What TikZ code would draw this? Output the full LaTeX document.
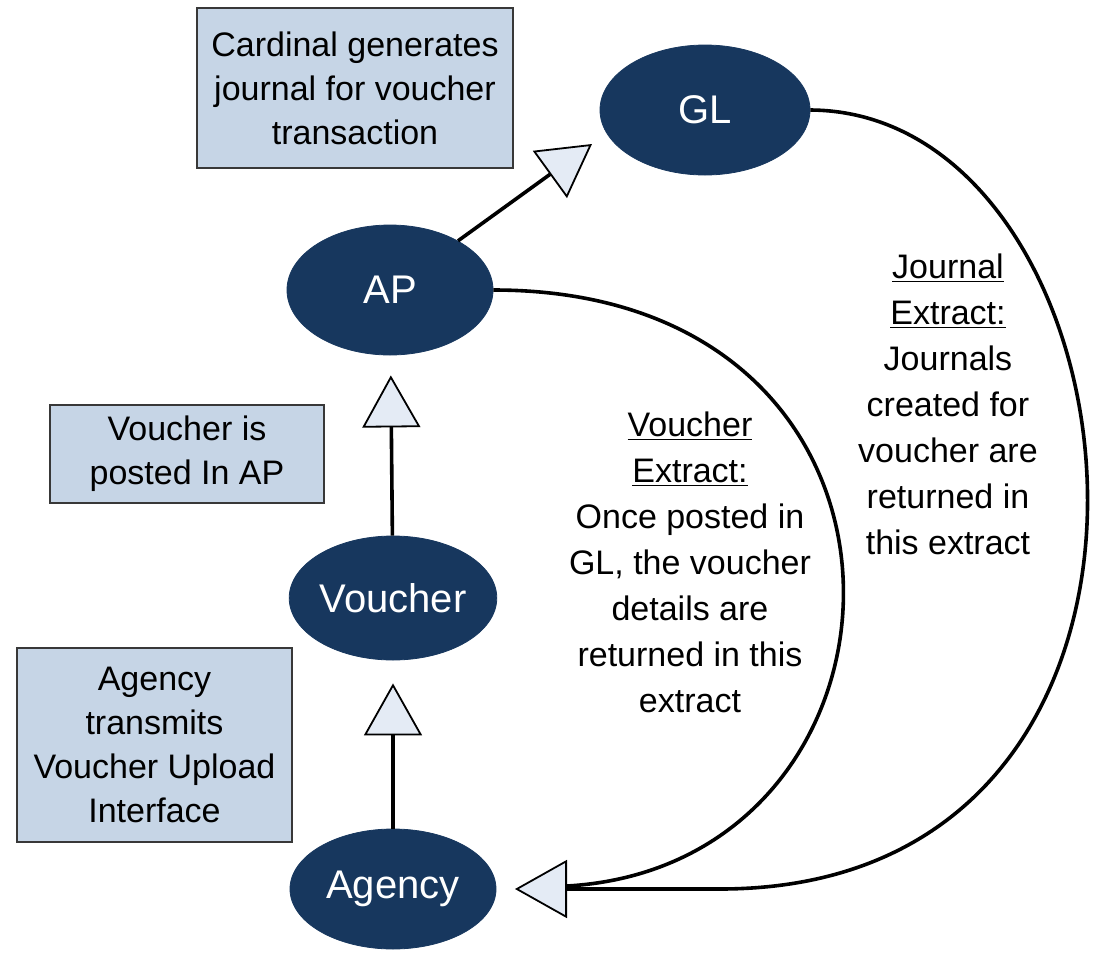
\documentclass[tikz,border=0pt]{standalone}
\usepackage{fontspec}
\setmainfont{Liberation Sans}
\usetikzlibrary{arrows.meta,shapes.geometric}
\definecolor{navy}{HTML}{17375E}
\definecolor{boxfill}{HTML}{C6D5E6}
\definecolor{trifill}{HTML}{E4EBF5}
\definecolor{boxline}{HTML}{383838}
\tikzset{
  ell/.style={ellipse, fill=navy, draw=navy, inner sep=0pt, text=white,
    font=\fontsize{20}{24}\selectfont},
  infobox/.style={rectangle, fill=boxfill, draw=boxline, line width=1pt,
    inner sep=0pt, align=center, font=\fontsize{17}{22}\selectfont},
  lbl/.style={align=center, inner sep=0pt, font=\fontsize{17}{23}\selectfont},
  conn/.style={draw=black, line width=1.8pt},
  tri/.style={-{Triangle[length=26pt,width=29pt,fill=trifill,line width=0.9pt]}}
}
\begin{document}
\begin{tikzpicture}[x=0.5pt,y=-0.5pt]
\useasboundingbox (0,0) rectangle (1105,966);
% boxes
\node[infobox, minimum width=158pt, minimum height=80pt] (bcard) at (355,88)
  {Cardinal generates\\journal for voucher\\transaction};
\node[infobox, minimum width=137pt, minimum height=49pt] (bpost) at (187,454)
  {Voucher is\\posted In AP};
\node[infobox, minimum width=137.5pt, minimum height=97pt] (bagency) at (154.5,745)
  {Agency\\transmits\\Voucher Upload\\Interface};
% ellipses
\node[ell, minimum width=105pt, minimum height=65pt] (GL) at (705,110) {GL};
\node[ell, minimum width=103pt, minimum height=65pt] (AP) at (390,290) {AP};
\node[ell, minimum width=103pt, minimum height=62pt] (V) at (393,598) {Voucher};
\node[ell, minimum width=103pt, minimum height=60pt] (A) at (393,889) {Agency};
% coordinates
\coordinate (gltip) at (592,144);
\coordinate (tipA) at (515,889);
\coordinate (baseA) at (567,886);
\coordinate (bendA) at (720,889);
% straight arrows
\draw[conn, tri] (AP) -- (gltip);
\draw[conn, tri, shorten >=10pt] (V) -- (AP);
\draw[conn, tri, shorten >=11.5pt] (A) -- (V);
% curved arrows
\draw[conn] (AP.east) .. controls (960,290) and (935,865) .. (baseA);
\draw[conn, tri] (GL.east) .. controls (1150,112) and (1240,889) .. (bendA) -- (tipA);
% labels
\node[lbl] (lvouch) at (690,562)
  {\underline{Voucher}\\\underline{Extract:}\\Once posted in\\GL, the voucher\\details are\\returned in this\\extract};
\node[lbl] (ljour) at (948,404)
  {\underline{Journal}\\\underline{Extract:}\\Journals\\created for\\voucher are\\returned in\\this extract};
\end{tikzpicture}
\end{document}
